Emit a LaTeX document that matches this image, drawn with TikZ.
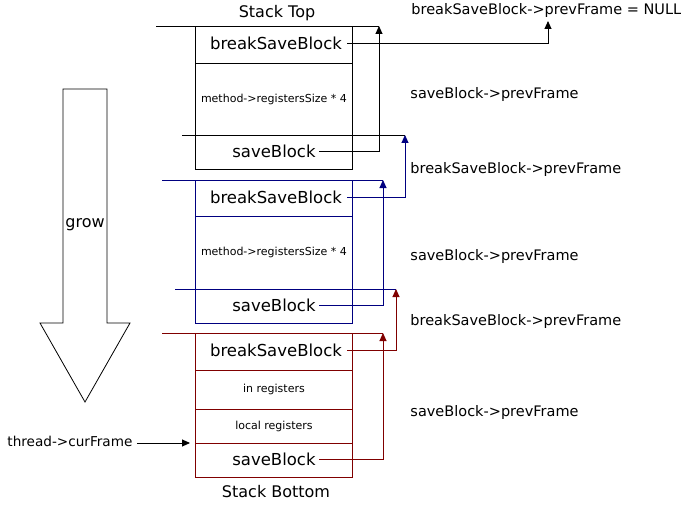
\documentclass[tikz,border=0pt]{standalone}
\usepackage{fontspec}
\setmainfont{DejaVu Sans}
\usetikzlibrary{arrows.meta}
\definecolor{fblue}{RGB}{0,0,128}
\definecolor{fred}{RGB}{128,0,0}
\begin{document}
\begin{tikzpicture}[x=1pt,y=-1pt,line width=0.9pt,
  row/.style={draw, minimum width=157pt, inner sep=0pt, anchor=north west},
  big/.style={font=\fontsize{16.5}{18}\selectfont, inner sep=3pt},
  bsb/.style={big, inner xsep=5pt},
  small/.style={font=\fontsize{11}{13}\selectfont},
  lbl/.style={font=\fontsize{14.5}{16}\selectfont, anchor=west, inner sep=0pt},
  tip/.style={-{Triangle[length=8pt,width=7pt]}}
]
\useasboundingbox (0,0) rectangle (690,505);
% grow arrow
\draw[line width=0.8pt] (63,89) -- (107,89) -- (107,323) -- (130,323) -- (85,402) -- (40,323) -- (63,323) -- cycle;
\node[font=\fontsize{16}{18}\selectfont] (grow) at (85,225) {grow};
% titles
\node[font=\fontsize{16}{18}\selectfont] (top) at (277,13) {Stack Top};
\node[font=\fontsize{16}{18}\selectfont] (bot) at (276,492) {Stack Bottom};
% frame 1
\node[row, minimum height=37pt] (f1b) at (195,26) {};
\node[row, minimum height=72pt] (f1m) at (195,63) {};
\node[row, minimum height=34pt] (f1s) at (195,135) {};
\node[bsb] (f1bt) at ([xshift=2pt,yshift=1.5pt]f1b.center) {breakSaveBlock};
\node[small] (f1mt) at (f1m) {method->registersSize * 4};
\node[big] (f1st) at ([yshift=1pt]f1s.center) {saveBlock};
\coordinate (a1) at (156,26); \coordinate (b1) at (379,26);
\coordinate (a1s) at (182,135); \coordinate (b1s) at (405,135);
\draw (a1) -- (b1);
\draw (a1s) -- (b1s);
% frame 2
\begin{scope}[draw=fblue]
\node[row, minimum height=36pt] (f2b) at (195,180) {};
\node[row, minimum height=73pt] (f2m) at (195,216) {};
\node[row, minimum height=34pt] (f2s) at (195,289) {};
\coordinate (a2) at (162,180); \coordinate (b2) at (383,180);
\coordinate (a2s) at (175,289); \coordinate (b2s) at (396,289);
\draw (a2) -- (b2);
\draw (a2s) -- (b2s);
\end{scope}
\node[bsb] (f2bt) at ([xshift=2pt,yshift=1.5pt]f2b.center) {breakSaveBlock};
\node[small] (f2mt) at (f2m) {method->registersSize * 4};
\node[big] (f2st) at ([yshift=1pt]f2s.center) {saveBlock};
% frame 3
\begin{scope}[draw=fred]
\node[row, minimum height=37pt] (f3b) at (195,333) {};
\node[row, minimum height=39pt] (f3i) at (195,370) {};
\node[row, minimum height=34pt] (f3l) at (195,409) {};
\node[row, minimum height=34pt] (f3s) at (195,443) {};
\coordinate (a3) at (162,333); \coordinate (b3) at (383,333);
\draw (a3) -- (b3);
\end{scope}
\node[bsb] (f3bt) at ([xshift=2pt,yshift=1.5pt]f3b.center) {breakSaveBlock};
\node[small] (f3it) at (f3i) {in registers};
\node[small] (f3lt) at (f3l) {local registers};
\node[big] (f3st) at ([yshift=1pt]f3s.center) {saveBlock};
% right labels
\node[lbl] (n0) at (411,11) {breakSaveBlock->prevFrame = NULL};
\node[lbl] (p1) at (410,95) {saveBlock->prevFrame};
\node[lbl] (q1) at (410,170) {breakSaveBlock->prevFrame};
\node[lbl] (p2) at (410,256) {saveBlock->prevFrame};
\node[lbl] (q2) at (410,321) {breakSaveBlock->prevFrame};
\node[lbl] (p3) at (410,412) {saveBlock->prevFrame};
\coordinate (n0t) at (548,21);
% links
\draw[tip] (f1st.east) -| (b1);
\draw[tip] (f1bt.east) -| (n0t);
\draw[tip, fblue] (f2bt.east) -| (b1s);
\draw[tip, fblue] (f2st.east) -| (b2);
\draw[tip, fred] (f3bt.east) -| (b2s);
\draw[tip, fred] (f3st.east) -| (b3);
% thread->curFrame
\node[font=\fontsize{13.6}{16}\selectfont, anchor=west, inner sep=0pt] (thr) at (7,441) {thread->curFrame};
\coordinate (cf) at (190,443);
\draw[tip] ([xshift=4pt]thr.east |- cf) -- (cf);
\end{tikzpicture}
\end{document}
